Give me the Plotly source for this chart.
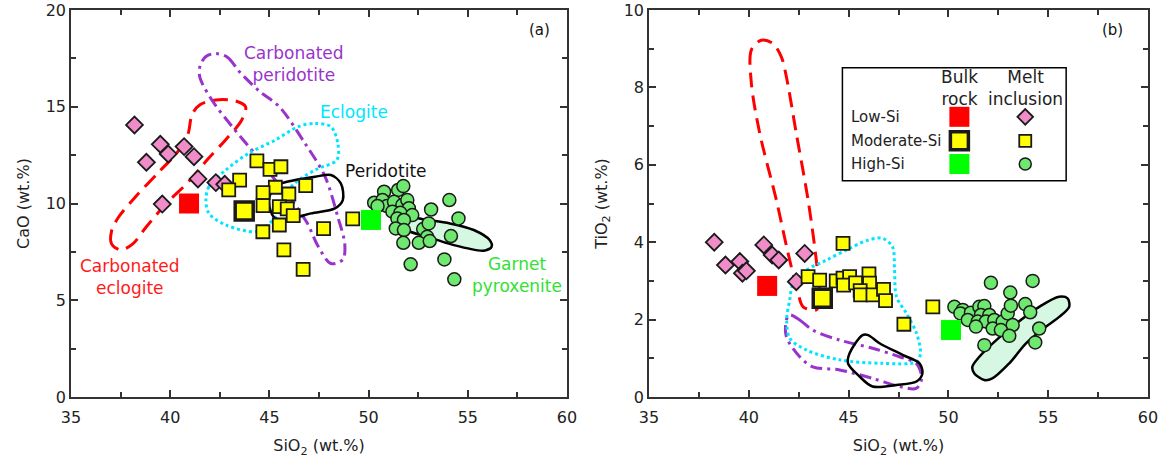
import plotly.graph_objects as go

# ---------------- Panel (a): CaO vs SiO2 ----------------
a_low_mi_x = [38.2, 38.8, 39.5, 39.9, 39.6, 40.7, 41.2, 41.4, 42.3, 42.75]
a_low_mi_y = [14.06, 12.13, 13.06, 12.56, 9.97, 12.94, 12.42, 11.27, 11.08, 10.99]

a_mod_mi_x = [44.37, 45.03, 45.58, 43.5, 42.95, 45.3, 44.68, 46.83, 45.98, 44.68,
              45.5, 45.9, 46.2, 45.5, 44.67, 47.73, 45.73, 46.7, 49.2]
a_mod_mi_y = [12.2, 11.76, 11.9, 11.21, 10.7, 10.84, 10.56, 10.92, 10.49, 9.89,
              9.84, 9.72, 9.37, 8.89, 8.54, 8.7, 7.6, 6.6, 9.21]

a_high_mi_x = [50.78, 51.49, 51.75, 50.28, 50.7, 50.92, 50.45, 51.28, 51.7, 51.95,
               52.03, 51.2, 51.6, 52.2, 51.45, 51.78, 51.37, 51.78, 52.75, 53.03,
               53.15, 54.07, 54.53, 52.95, 54.15, 51.75, 52.53, 53.08, 52.12, 53.82, 54.32]
a_high_mi_y = [10.61, 10.70, 10.9, 10.04, 10.18, 9.87, 9.87, 10.09, 9.92, 10.18,
               9.75, 9.58, 9.52, 9.4, 9.23, 9.15, 8.71, 8.63, 8.68, 8.97,
               9.69, 10.18, 9.23, 8.28, 8.32, 7.97, 7.97, 8.06, 6.86, 7.11, 6.08]

a_bulk_x = [40.95, 43.73, 50.12]   # Low-Si, Moderate-Si, High-Si
a_bulk_y = [10.0, 9.61, 9.15]

a_carb_eclogite_x = [37.5, 37.05, 37.05, 37.4, 38.3, 39.4, 40.4, 40.9, 41.1, 41.5, 42.3, 43.3, 43.8,
                     43.6, 42.8, 41.9, 40.9, 39.8, 38.8, 38.1, 37.5]
a_carb_eclogite_y = [7.6, 7.9, 8.6, 9.3, 10.4, 11.6, 12.7, 13.6, 14.6, 15.1, 15.35, 15.3, 15.0,
                     14.3, 13.3, 12.3, 11.1, 10.0, 8.8, 7.9, 7.6]

a_carb_perid_x = [42.3, 42.9, 43.5, 44.5, 45.5, 46.8, 47.8, 48.45, 48.8, 48.7, 48.1, 47.45, 46.9,
                  46.1, 45.3, 44.4, 43.1, 42.1, 41.5, 41.5, 41.8, 42.3]
a_carb_perid_y = [17.75, 17.55, 16.8, 15.8, 15.0, 13.1, 11.4, 9.3, 7.9, 7.1, 6.9, 7.8, 9.0,
                  10.2, 11.2, 12.4, 14.0, 15.35, 16.5, 17.1, 17.6, 17.75]

a_eclogite_x = [41.8, 41.95, 42.8, 43.95, 45.3, 46.45, 47.3, 48.1, 48.45, 48.4, 47.3, 46.1, 45.45,
                44.8, 44.3, 42.8, 41.95, 41.8]
a_eclogite_y = [10.18, 10.87, 11.73, 12.59, 13.28, 13.97, 14.14, 13.97, 13.1, 12.25, 11.73, 10.87, 9.49,
                8.8, 8.54, 8.89, 9.49, 10.18]

a_peridotite_x = [45.6, 47.3, 48.1, 48.6, 48.7, 48.3, 47.1, 46.1, 45.3, 45.0, 45.0, 45.3, 45.6]
a_peridotite_y = [11.04, 11.38, 11.47, 11.04, 10.18, 9.75, 9.49, 9.23, 9.23, 9.84, 10.35, 10.87, 11.04]

a_gpx_x = [51.78, 52.95, 54.1, 55.3, 56.1, 56.2, 55.8, 55.0, 54.0, 52.95, 52.1, 51.6, 51.5, 51.78]
a_gpx_y = [9.32, 9.15, 8.97, 8.63, 8.11, 7.77, 7.56, 7.68, 7.94, 8.28, 8.54, 8.8, 9.15, 9.32]

# ---------------- Panel (b): TiO2 vs SiO2 ----------------
b_low_mi_x = [38.27, 38.83, 39.55, 39.68, 39.88, 40.75, 41.17, 41.5, 42.8, 42.38]
b_low_mi_y = [4.0, 3.41, 3.5, 3.2, 3.26, 3.93, 3.67, 3.54, 3.71, 2.98]

b_mod_mi_x = [44.72, 42.97, 43.55, 44.38, 44.72, 45.05, 44.75, 45.35, 46.02, 46.05,
              45.58, 45.6, 46.22, 46.75, 46.85, 47.77, 49.22]
b_mod_mi_y = [3.97, 3.11, 3.02, 3.0, 3.07, 3.11, 2.89, 2.95, 3.18, 2.94,
              2.75, 2.64, 2.64, 2.78, 2.49, 1.88, 2.33]

b_high_mi_x = [52.13, 54.22, 53.1, 50.3, 50.72, 50.6, 51.13, 51.55, 51.8, 51.63,
               52.05, 50.97, 51.47, 51.88, 52.3, 52.22, 52.72, 52.97, 53.13, 53.22,
               52.63, 53.05, 53.85, 54.1, 54.55, 54.35, 51.8, 51.38]
b_high_mi_y = [2.95, 3.0, 2.7, 2.33, 2.25, 2.16, 2.18, 2.33, 2.35, 2.12,
               2.12, 1.99, 1.95, 1.95, 1.99, 1.77, 1.95, 2.16, 2.36, 1.86,
               1.73, 1.58, 2.4, 2.19, 1.77, 1.41, 1.34, 1.82]

b_bulk_x = [40.92, 43.68, 50.13]
b_bulk_y = [2.87, 2.55, 1.73]

b_carb_eclogite_x = [40.63, 40.13, 40.13, 40.55, 41.38, 41.97, 42.47, 42.72, 43.38, 43.55, 43.38,
                     42.97, 42.38, 41.88, 41.63, 41.2, 40.63]
b_carb_eclogite_y = [9.22, 8.97, 8.1, 6.81, 5.09, 3.71, 2.68, 2.33, 2.25, 2.5, 3.54,
                     5.09, 6.81, 8.28, 8.79, 9.14, 9.22]

b_carb_perid_x = [42.05, 42.55, 43.2, 44.55, 46.2, 47.55, 48.38, 48.63, 48.63, 48.38, 47.55, 46.2,
                  44.55, 43.2, 42.55, 41.88, 41.88, 42.05]
b_carb_perid_y = [2.12, 1.99, 1.73, 1.47, 1.26, 1.04, 0.87, 0.61, 0.4, 0.22, 0.27, 0.48,
                  0.7, 0.78, 1.04, 1.56, 1.99, 2.12]

b_eclogite_x = [42.2, 42.9, 43.9, 44.9, 45.9, 46.7, 47.2, 47.3, 47.4, 47.9, 48.4, 48.6, 48.4,
                46.7, 44.55, 42.9, 42.05, 41.9, 42.05, 42.2]
b_eclogite_y = [2.89, 3.28, 3.54, 3.8, 4.04, 4.1, 3.88, 3.28, 2.59, 2.16, 1.65, 1.13, 0.91,
                0.87, 0.96, 1.21, 1.52, 1.99, 2.51, 2.89]

b_peridotite_x = [45.7, 45.05, 44.97, 45.55, 46.2, 47.4, 48.4, 48.7, 48.55, 47.7, 46.55, 45.98, 45.7]
b_peridotite_y = [1.6, 1.13, 0.87, 0.53, 0.27, 0.31, 0.4, 0.61, 0.87, 1.09, 1.39, 1.6, 1.6]

b_gpx_x = [51.2, 51.55, 52.4, 53.4, 54.55, 55.55, 55.97, 56.05, 55.55, 54.9, 53.9, 53.05, 52.2,
           51.8, 51.3, 51.2]
b_gpx_y = [0.78, 1.04, 1.47, 1.9, 2.33, 2.59, 2.55, 2.33, 2.07, 1.82, 1.39, 0.87, 0.48,
           0.44, 0.61, 0.78]

# legend content
legend_rows = ["Low-Si", "Moderate-Si", "High-Si"]
legend_cols = ["Bulk<br>rock", "Melt<br>inclusion"]

# ---------------- styling ----------------
FONT = "DejaVu Sans"
RED = "#ff0000"
PINK = "#f08cc8"
YELLOW = "#ffff00"
LGREEN = "#6fe86f"
GREEN = "#00ff00"
CYAN = "#00e5ff"
PURPLE = "#9933cc"
MINT = "#d6f7e2"
EDGE = "#1a1a1a"

fig = go.Figure()


def outline(x, y, color, dash, width, xa, ya, fill=None):
    fig.add_trace(go.Scatter(
        x=x, y=y, mode="lines", xaxis=xa, yaxis=ya,
        line=dict(color=color, dash=dash, width=width, shape="spline", smoothing=0.9),
        fill="toself" if fill else None, fillcolor=fill,
        hoverinfo="skip", showlegend=False))


def markers(x, y, symbol, size, color, lw, xa, ya):
    fig.add_trace(go.Scatter(
        x=x, y=y, mode="markers", xaxis=xa, yaxis=ya, cliponaxis=False,
        marker=dict(symbol=symbol, size=size, color=color,
                    line=dict(color=EDGE, width=lw)),
        showlegend=False))


for xa, ya, P in [("x", "y", "a"), ("x2", "y2", "b")]:
    g = globals()
    outline(g[P + "_gpx_x"], g[P + "_gpx_y"], "black", "solid", 2.5, xa, ya, fill=MINT)
    outline(g[P + "_carb_eclogite_x"], g[P + "_carb_eclogite_y"], RED, "15px,8px", 3, xa, ya)
    outline(g[P + "_carb_perid_x"], g[P + "_carb_perid_y"], PURPLE, "12px,5px,3px,5px", 3, xa, ya)
    outline(g[P + "_eclogite_x"], g[P + "_eclogite_y"], CYAN, "3px,3px", 3, xa, ya)
    outline(g[P + "_peridotite_x"], g[P + "_peridotite_y"], "black", "solid", 2.5, xa, ya)
    markers(g[P + "_low_mi_x"], g[P + "_low_mi_y"], "diamond", 13, PINK, 1.8, xa, ya)
    markers(g[P + "_mod_mi_x"], g[P + "_mod_mi_y"], "square", 13, YELLOW, 1.8, xa, ya)
    markers(g[P + "_high_mi_x"], g[P + "_high_mi_y"], "circle", 13, LGREEN, 1.5, xa, ya)
    bx, by = g[P + "_bulk_x"], g[P + "_bulk_y"]
    markers([bx[0]], [by[0]], "square", 20, RED, 0, xa, ya)
    markers([bx[1]], [by[1]], "square", 18, YELLOW, 3.5, xa, ya)
    markers([bx[2]], [by[2]], "square", 20, GREEN, 0, xa, ya)

# ---------------- legend in panel (b) ----------------
leg_x0, leg_x1, leg_y0, leg_y1 = 44.69, 55.9, 5.59, 8.51
row_y = [7.24, 6.62, 6.02]
col_x = [50.55, 53.85]
fig.add_shape(type="rect", xref="x2", yref="y2", x0=leg_x0, x1=leg_x1, y0=leg_y0, y1=leg_y1,
              line=dict(color="black", width=1.5), fillcolor="rgba(0,0,0,0)", layer="above")
bulk_styles = [(RED, 0, 20), (YELLOW, 3.5, 18), (GREEN, 0, 20)]
mi_styles = [("diamond", PINK, 1.8), ("square", YELLOW, 1.8), ("circle", LGREEN, 1.5)]
for i, lab in enumerate(legend_rows):
    c, lw, s = bulk_styles[i]
    sym, mc, mlw = mi_styles[i]
    fig.add_trace(go.Scatter(x=[col_x[0]], y=[row_y[i]], xaxis="x2", yaxis="y2", mode="markers",
                             marker=dict(symbol="square", size=s, color=c, line=dict(color=EDGE, width=lw)),
                             showlegend=False, cliponaxis=False))
    fig.add_trace(go.Scatter(x=[col_x[1]], y=[row_y[i]], xaxis="x2", yaxis="y2", mode="markers",
                             marker=dict(symbol=sym, size=12, color=mc, line=dict(color=EDGE, width=mlw)),
                             showlegend=False, cliponaxis=False))
    fig.add_annotation(x=45.0, y=row_y[i], xref="x2", yref="y2", text=lab, showarrow=False,
                       xanchor="left", yanchor="middle", font=dict(family=FONT, size=15, color="#222"))
for j, lab in enumerate(legend_cols):
    fig.add_annotation(x=col_x[j], y=7.99, xref="x2", yref="y2", text=lab, showarrow=False,
                       xanchor="center", yanchor="middle", font=dict(family=FONT, size=17, color="#222"))

# ---------------- region labels ----------------
def label(x, y, text, color, xa="x", ya="y", size=17):
    fig.add_annotation(x=x, y=y, xref=xa, yref=ya, text=text, showarrow=False,
                       xanchor="center", yanchor="middle", font=dict(family=FONT, size=size, color=color))

label(46.25, 17.2, "Carbonated<br>peridotite", PURPLE)
label(49.25, 14.73, "Eclogite", CYAN)
label(50.9, 11.7, "Peridotite", "#111")
label(37.95, 6.2, "Carbonated<br>eclogite", "#ff1a1a")
label(57.5, 6.3, "Garnet<br>pyroxenite", "#33e033")
label(58.6, 18.97, "(a)", "#111", size=15)
label(58.2, 9.48, "(b)", "#111", "x2", "y2", size=15)

# ---------------- axes ----------------
minor_common = dict(ticks="inside", ticklen=5, tickwidth=1.5, tickcolor="#333")
axis_common = dict(showgrid=False, zeroline=False, showline=True, linecolor="#333", linewidth=1.5,
                   mirror="allticks", ticks="inside", ticklen=7, tickwidth=1.5, tickcolor="#333",
                   automargin=False,
                   tickfont=dict(family=FONT, size=16, color="#222"),
                   title_font=dict(family=FONT, size=16, color="#222"))
xcommon = dict(axis_common, range=[35, 60], dtick=5, tick0=35,
               minor=dict(minor_common, dtick=2.5), ticklabelstandoff=5,
               title_text="SiO<sub>2</sub> (wt.%)", title_standoff=14)

fig.update_layout(
    width=1160, height=458,
    margin=dict(l=0, r=0, t=10, b=61, autoexpand=False),
    paper_bgcolor="white", plot_bgcolor="white",
    xaxis=dict(xcommon, domain=[71 / 1160, 567 / 1160], anchor="y"),
    yaxis=dict(axis_common, range=[0, 20], dtick=5, anchor="x",
               minor=dict(minor_common, dtick=2.5),
               title_text="CaO (wt.%)", title_standoff=12),
    xaxis2=dict(xcommon, domain=[649 / 1160, 1148 / 1160], anchor="y2"),
    yaxis2=dict(axis_common, range=[0, 10], dtick=2, anchor="x2",
                minor=dict(minor_common, dtick=1),
                title_text="TiO<sub>2</sub> (wt.%)", title_standoff=12),
    showlegend=False,
)

fig.write_html("out.html")
